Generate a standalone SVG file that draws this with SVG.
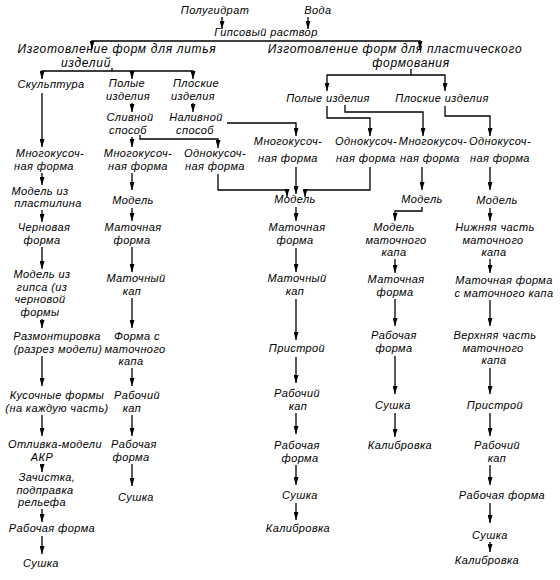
<svg xmlns="http://www.w3.org/2000/svg" width="560" height="580" viewBox="0 0 560 580">
<defs>
<marker id="a" markerWidth="8" markerHeight="5" refX="8" refY="2.5" orient="auto" markerUnits="userSpaceOnUse"><path d="M0,0 L8,2.5 L0,5 z" fill="#000"/></marker>
<style>
text{font-family:"Liberation Sans","DejaVu Sans",sans-serif;font-style:italic;font-size:11px;letter-spacing:0.4px;fill:#000;text-anchor:middle}
.h{font-size:12px;letter-spacing:0.7px}
#edges path{fill:none;stroke:#000;stroke-width:1.3}
#edges .ar{marker-end:url(#a)}
</style>
</defs>
<rect width="560" height="580" fill="#fff"/>
<g id="edges">
<path class="ar" d="M222,17 V29"/>
<path class="ar" d="M308,17 V29"/>
<path class="ar" d="M256,41 H92 V49"/>
<path class="ar" d="M256,41 H420 V49"/>
<path d="M112,68 V71"/>
<path class="ar" d="M112,71 H42 V79"/>
<path class="ar" d="M112,71 H193 V79"/>
<path class="ar" d="M132,71 V79"/>
<path d="M411,69 V75"/>
<path class="ar" d="M411,75 H327 V91"/>
<path class="ar" d="M411,75 H445 V91"/>
<path class="ar" d="M42,93 V147"/>
<path class="ar" d="M132,103 V112"/>
<path class="ar" d="M193,103 V112"/>
<path class="ar" d="M227,123 H296 V136"/>
<path class="ar" d="M327,106 V118 H370 V136"/>
<path class="ar" d="M345,105 V112 H423 V136"/>
<path class="ar" d="M445,106 V116 H490 V136"/>
<path class="ar" d="M132,137 V147"/>
<path class="ar" d="M140,135 V139 H218 V148"/>
<path class="ar" d="M218,174 V190 H287 V197"/>
<path class="ar" d="M296,167 V194"/>
<path class="ar" d="M370,167 V190 H305 V197"/>
<path class="ar" d="M422,167 V190"/>
<path class="ar" d="M490,167 V190"/>
<!-- col 1 -->
<path class="ar" d="M42,173 V185"/>
<path class="ar" d="M42,210 V222"/>
<path class="ar" d="M42,247 V269"/>
<path class="ar" d="M42,319 V328"/>
<path class="ar" d="M42,356 V386"/>
<path class="ar" d="M42,415 V436"/>
<path class="ar" d="M42,464 V472"/>
<path class="ar" d="M42,509 V522"/>
<path class="ar" d="M42,536 V554"/>
<!-- col 2 -->
<path class="ar" d="M132,173 V190"/>
<path class="ar" d="M132,208 V221"/>
<path class="ar" d="M132,247 V272"/>
<path class="ar" d="M132,298 V328"/>
<path class="ar" d="M132,368 V386"/>
<path class="ar" d="M132,415 V436"/>
<path class="ar" d="M132,464 V486"/>
<!-- col 4 -->
<path class="ar" d="M296,207 V221"/>
<path class="ar" d="M296,248 V272"/>
<path class="ar" d="M296,299 V340"/>
<path class="ar" d="M296,357 V383"/>
<path class="ar" d="M296,413 V434"/>
<path class="ar" d="M296,465 V485"/>
<path class="ar" d="M296,503 V520"/>
<!-- col 6 -->
<path class="ar" d="M422,207 V211 H395 V221"/>
<path class="ar" d="M395,259 V273"/>
<path class="ar" d="M395,299 V326"/>
<path class="ar" d="M395,356 V394"/>
<path class="ar" d="M395,413 V437"/>
<!-- col 7 -->
<path class="ar" d="M490,208 V221"/>
<path class="ar" d="M490,259 V273"/>
<path class="ar" d="M490,300 V326"/>
<path class="ar" d="M490,368 V394"/>
<path class="ar" d="M490,413 V436"/>
<path class="ar" d="M490,465 V485"/>
<path class="ar" d="M490,503 V523"/>
<path class="ar" d="M490,542 V552"/>
</g>
<g id="n_polugidrat"><text x="215" y="14">Полугидрат</text></g>
<g id="n_voda"><text x="318" y="14">Вода</text></g>
<g id="n_gips"><text x="266" y="36">Гипсовый раствор</text></g>
<g id="n_lit"><text class="h" x="117" y="53">Изготовление форм для литья</text><text class="h" x="86" y="66.5">изделий</text></g>
<g id="n_plast"><text class="h" x="395" y="53">Изготовление форм для пластического</text><text class="h" x="411" y="66.5">формования</text></g>
<g id="n_skulpt"><text x="51" y="88">Скульптура</text></g>
<g id="n_polye1"><text x="127" y="87">Полые</text><text x="128" y="99.5">изделия</text></g>
<g id="n_ploskie1"><text x="196" y="87">Плоские</text><text x="193" y="99.5">изделия</text></g>
<g id="n_polye2"><text x="328" y="102">Полые изделия</text></g>
<g id="n_ploskie2"><text x="442" y="102">Плоские изделия</text></g>
<g id="n_sliv"><text x="130" y="121">Сливной</text><text x="128" y="133.5">способ</text></g>
<g id="n_naliv"><text x="196" y="121">Наливной</text><text x="195" y="133.5">способ</text></g>
<g id="c1_mnogo"><text x="50" y="157">Многокусоч-</text><text x="44" y="169.5">ная форма</text></g>
<g id="c2_mnogo"><text x="138" y="157">Многокусоч-</text><text x="138" y="169.5">ная форма</text></g>
<g id="c3_odno"><text x="215" y="157">Однокусоч-</text><text x="215" y="169.5">ная форма</text></g>
<g id="c4_mnogo"><text x="288" y="145">Многокусоч-</text><text x="288" y="162">ная форма</text></g>
<g id="c5_odno"><text x="366" y="145">Однокусоч-</text><text x="366" y="162">ная форма</text></g>
<g id="c6_mnogo"><text x="433" y="145">Многокусоч-</text><text x="430" y="162">ная форма</text></g>
<g id="c7_odno"><text x="500" y="145">Однокусоч-</text><text x="500" y="162">ная форма</text></g>
<!-- column 1 -->
<g id="c1_model_plast"><text x="40" y="194.5">Модель из</text><text x="48" y="207">пластилина</text></g>
<g id="c1_chernovaya"><text x="44" y="231">Черновая</text><text x="42" y="243.5">форма</text></g>
<g id="c1_model_gips"><text x="42" y="278">Модель из</text><text x="42" y="290.5">гипса (из</text><text x="40" y="303">черновой</text><text x="40" y="315.5">формы</text></g>
<g id="c1_razmont"><text x="57" y="340">Размонтировка</text><text x="58" y="352.5">(разрез модели)</text></g>
<g id="c1_kusochnye"><text x="57" y="399">Кусочные формы</text><text x="57" y="411.5">(на каждую часть)</text></g>
<g id="c1_otlivka"><text x="55" y="448">Отливка-модели</text><text x="42" y="460.5">АКР</text></g>
<g id="c1_zachistka"><text x="47" y="481">Зачистка,</text><text x="45" y="493.5">подправка</text><text x="42" y="506">рельефа</text></g>
<g id="c1_rabochaya"><text x="52" y="532">Рабочая форма</text></g>
<g id="c1_sushka"><text x="41" y="567">Сушка</text></g>
<!-- column 2 -->
<g id="c2_model"><text x="133" y="204">Модель</text></g>
<g id="c2_matochnaya"><text x="133" y="231">Маточная</text><text x="132" y="243.5">форма</text></g>
<g id="c2_matkap"><text x="136" y="282">Маточный</text><text x="132" y="294.5">кап</text></g>
<g id="c2_forma_s"><text x="137" y="340">Форма с</text><text x="135" y="352.5">маточного</text><text x="131" y="365">капа</text></g>
<g id="c2_rabkap"><text x="137" y="399">Рабочий</text><text x="132" y="411.5">кап</text></g>
<g id="c2_rabforma"><text x="134" y="448">Рабочая</text><text x="131" y="460.5">форма</text></g>
<g id="c2_sushka"><text x="136" y="501">Сушка</text></g>
<!-- column 4 -->
<g id="c4_model"><text x="295" y="203">Модель</text></g>
<g id="c4_matochnaya"><text x="297" y="231">Маточная</text><text x="295" y="243.5">форма</text></g>
<g id="c4_matkap"><text x="297" y="282">Маточный</text><text x="295" y="294.5">кап</text></g>
<g id="c4_pristroy"><text x="297" y="352">Пристрой</text></g>
<g id="c4_rabkap"><text x="297" y="397">Рабочий</text><text x="298" y="409.5">кап</text></g>
<g id="c4_rabforma"><text x="297" y="449">Рабочая</text><text x="300" y="461.5">форма</text></g>
<g id="c4_sushka"><text x="300" y="499">Сушка</text></g>
<g id="c4_kalibr"><text x="298" y="532">Калибровка</text></g>
<!-- column 6 -->
<g id="c6_model"><text x="422" y="203">Модель</text></g>
<g id="c6_model_mk"><text x="394" y="231">Модель</text><text x="396" y="243.5">маточного</text><text x="394" y="256">капа</text></g>
<g id="c6_matochnaya"><text x="396" y="283">Маточная</text><text x="395" y="295.5">форма</text></g>
<g id="c6_rabforma"><text x="394" y="339">Рабочая</text><text x="394" y="351.5">форма</text></g>
<g id="c6_sushka"><text x="393" y="409">Сушка</text></g>
<g id="c6_kalibr"><text x="400" y="449">Калибровка</text></g>
<!-- column 7 -->
<g id="c7_model"><text x="497" y="204">Модель</text></g>
<g id="c7_nizh"><text x="495" y="231">Нижняя часть</text><text x="493" y="243.5">маточного</text><text x="494" y="256">капа</text></g>
<g id="c7_matforma"><text x="504" y="284">Маточная форма</text><text x="504" y="296.5">с маточного капа</text></g>
<g id="c7_verkh"><text x="495" y="339">Верхняя часть</text><text x="493" y="351.5">маточного</text><text x="494" y="364">капа</text></g>
<g id="c7_pristroy"><text x="495" y="409">Пристрой</text></g>
<g id="c7_rabkap"><text x="497" y="449">Рабочий</text><text x="497" y="461.5">кап</text></g>
<g id="c7_rabforma"><text x="502" y="499">Рабочая форма</text></g>
<g id="c7_sushka"><text x="490" y="539">Сушка</text></g>
<g id="c7_kalibr"><text x="487" y="564">Калибровка</text></g>
</svg>
